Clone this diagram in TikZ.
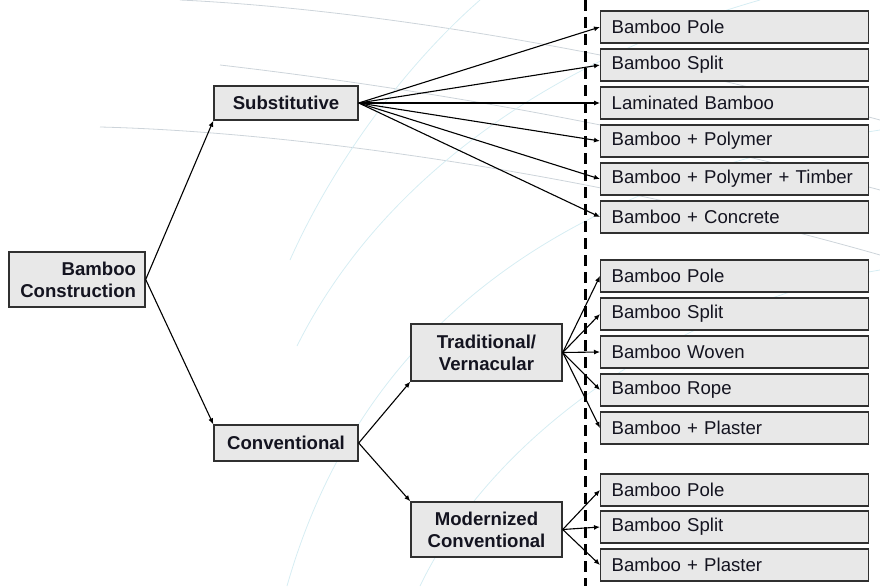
\documentclass[tikz,border=0pt]{standalone}
\usepackage{fontspec}
\setmainfont{Liberation Sans}
\usetikzlibrary{arrows.meta}
\definecolor{boxfill}{HTML}{E8E8E8}
\definecolor{boxline}{HTML}{303030}
\definecolor{bggray}{HTML}{CDD4DA}
\definecolor{bgblue}{HTML}{D6EDF3}
\definecolor{txt}{HTML}{141420}
\tikzset{
  basebox/.style={draw=boxline, fill=boxfill, line width=1.4pt, font=\fontsize{18.6}{22}\selectfont, text=txt},
  midbox/.style={basebox, font=\fontsize{18.6}{22}\selectfont\bfseries, align=center, inner sep=0pt},
  rbox/.style={basebox, anchor=west, text width=246pt, inner xsep=11pt, inner ysep=0pt, minimum height=32pt, align=left},
  conn/.style={line width=1.1pt, -{Latex[length=6pt,width=5pt]}},
  bgline/.style={bggray, line width=0.8pt},
  bgarc/.style={bgblue, line width=0.8pt},
  divider/.style={line width=3pt, dash pattern=on 11pt off 6pt}
}
\begin{document}
\begin{tikzpicture}[x=1pt,y=-1pt]
\useasboundingbox (0,0) rectangle (880,586);
% faint background arcs
\draw[bgline] (180,0) .. controls (350,8) and (600,45) .. (880,120);
\draw[bgline] (220,65) .. controls (350,80) and (600,115) .. (880,190);
\draw[bgline] (100,127) .. controls (300,132) and (600,175) .. (880,255);
\draw[bgarc] (290,260) .. controls (330,170) and (400,70) .. (480,0);
\draw[bgarc] (297,346) .. controls (380,180) and (550,60) .. (760,0);
\draw[bgarc] (287,586) .. controls (360,330) and (560,180) .. (880,130);
\draw[bgarc] (420,586) .. controls (500,420) and (700,300) .. (880,270);
% divider
\draw[divider] (585,0) -- (585,586);
% left / middle boxes
\node[midbox, minimum width=136pt, minimum height=55pt, align=right, text width=118pt] (bc) at (77,279.5) {Bamboo\\Construction};
\node[midbox, minimum width=144pt, minimum height=34pt] (sub) at (286,103) {Substitutive};
\node[midbox, minimum width=144pt, minimum height=36pt] (conv) at (286,443) {Conventional};
\node[midbox, minimum width=151pt, minimum height=57pt] (trad) at (486.5,352.5) {Traditional/\\Vernacular};
\node[midbox, minimum width=151pt, minimum height=55pt] (mod) at (486.5,529.5) {Modernized\\Conventional};
% right boxes, group 1
\node[rbox] (s1) at (600,27) {Bamboo Pole};
\node[rbox] (s2) at (600,65) {Bamboo Split};
\node[rbox] (s3) at (600,103) {Laminated Bamboo};
\node[rbox] (s4) at (600,141) {Bamboo + Polymer};
\node[rbox] (s5) at (600,179) {Bamboo + Polymer + Timber};
\node[rbox] (s6) at (600,217) {Bamboo + Concrete};
% group 2
\node[rbox] (t1) at (600,276) {Bamboo Pole};
\node[rbox] (t2) at (600,314) {Bamboo Split};
\node[rbox] (t3) at (600,352) {Bamboo Woven};
\node[rbox] (t4) at (600,390) {Bamboo Rope};
\node[rbox] (t5) at (600,428) {Bamboo + Plaster};
% group 3
\node[rbox] (m1) at (600,490) {Bamboo Pole};
\node[rbox] (m2) at (600,527) {Bamboo Split};
\node[rbox] (m3) at (600,565) {Bamboo + Plaster};
% connectors
\draw[conn] (bc.east) -- (sub.south west);
\draw[conn] (bc.east) -- (conv.north west);
\foreach \n in {s1,s2,s3,s4,s5,s6} \draw[conn] (sub.east) -- (\n.west);
\draw[conn] (conv.east) -- (trad.south west);
\draw[conn] (conv.east) -- (mod.north west);
\foreach \n in {t1,t2,t3,t4,t5} \draw[conn] (trad.east) -- (\n.west);
\foreach \n in {m1,m2,m3} \draw[conn] (mod.east) -- (\n.west);
\end{tikzpicture}
\end{document}
